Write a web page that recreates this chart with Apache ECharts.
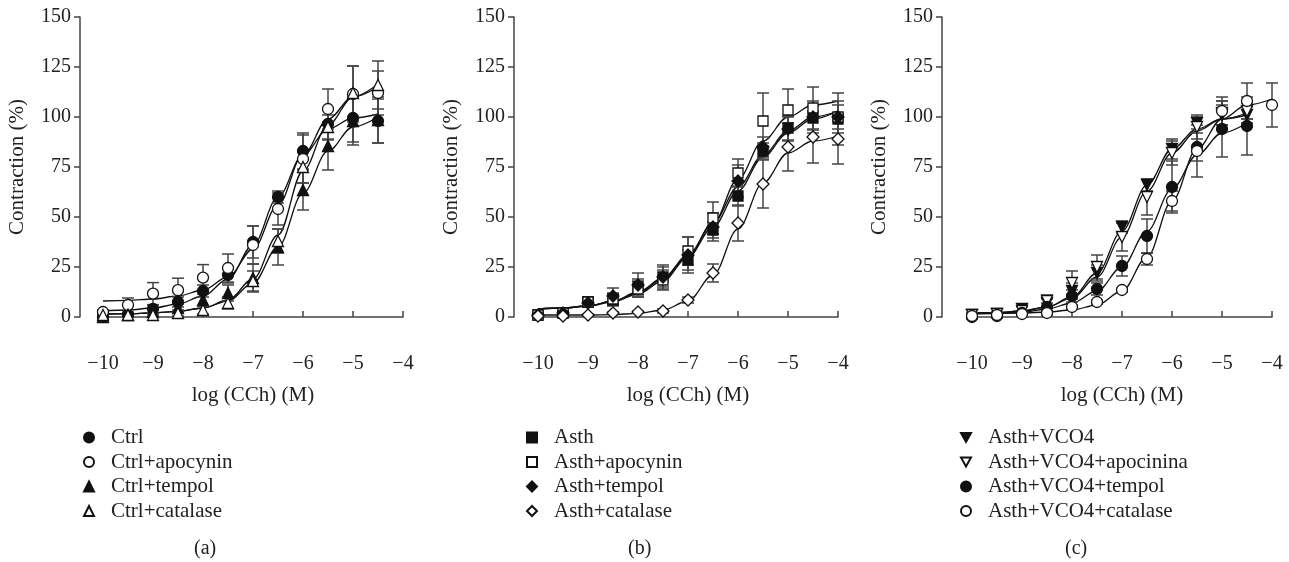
<!DOCTYPE html>
<html>
<head>
<meta charset="utf-8">
<script src="https://cdn.jsdelivr.net/npm/echarts@6/dist/echarts.min.js"></script>
<style>
html,body{margin:0;padding:0;background:#fff;}
#main{width:1289px;height:562px;}
</style>
</head>
<body>
<div id="main"></div>
<script>
// log concentrations
var xA = [-10,-9.5,-9,-8.5,-8,-7.5,-7,-6.5,-6,-5.5,-5,-4.5];
var xB = [-10,-9.5,-9,-8.5,-8,-7.5,-7,-6.5,-6,-5.5,-5,-4.5,-4];

// panel (a)
var ctrl      = [0,1,4,7.5,13,21,37.5,60,83,96.5,99.5,98];
var ctrlErr   = [1,1,2,2.5,3,4,8,3,9,8,12,11];
var ctrlFit   = [3,3.5,4.5,6.5,10.5,19,36,60,81,94,99.5,101.5];
var ctrlApo   = [2.5,6,11.7,13.4,19.7,24.5,36,54,79,104,111.5,112];
var ctrlApoErr= [1,3.5,5.5,6,6.5,7,9.5,8,12,10,14,11];
var ctrlApoFit= [8,8.3,9,10.5,13.5,20,34,56,81,99,110,115];
var ctrlTem   = [0,1,2.5,4.5,8.5,12,19.5,35,63.5,85.5,98,98.5];
var ctrlTemErr= [1,1,1.5,2,3,4,7,9,10,12,12,11.5];
var ctrlTemFit= [1.5,1.6,2,2.8,4.5,8,17,35,62,83,95,100];
var ctrlCat   = [1,1,1,2,3.5,7,18,38,75,95,112,116];
var ctrlCatErr= [1,1,1,1.5,2,3,5,6,8,6,13.5,12];
var ctrlCatFit= [1.5,1.6,2,2.8,4.5,8.5,19,41,73,96,110,116.5];

// panel (b)
var asth      = [1,2,7.5,8.5,15,20,28.5,43.5,60.5,83,94.5,99.5,99];
var asthErr   = [1,1,2.5,3,4,5,5,4,5,4,6,6,13];
var asthFit   = [4,4.5,5.5,8,12,19,30,45,63,80,92,99,103];
var asthApo   = [1,2,7.5,9,14,18.5,33,49.5,72,98,103.5,104.5,100];
var asthApoErr= [1,1,2,3,4,5,7,8,7,14,10.5,10.5,8];
var asthApoFit= [4,4.5,5.5,7.5,11.5,18,30,47,69,88,100,106,108];
var asthTem   = [1,2,7,10.5,16,20,31,45,68,85,94,100,100];
var asthTemErr= [1,1,2,4,6,6,9,7,8,5,6,8,6];
var asthTemFit= [4,4.5,5.5,8,12.5,19.5,31,47,65,81,93,100,103];
var asthCat   = [0.5,0.5,1,2,2.5,3,8.5,22,47,66.5,85,90,89];
var asthCatErr= [0.5,0.5,0.5,0.5,0.5,1,1.5,4.5,9,12,12,13,12.5];
var asthCatFit= [1,1,1,1.2,1.8,3.5,8,21,44,67,82,88,90.5];

// panel (c)
var vco       = [1,1.5,4,7,13,22,45,66,84,97,101,101];
var vcoErr    = [1,1,1.5,2,4,4,3,3,5,3,5,4];
var vcoFit    = [2,2.2,3,5,10,22,43,66,84,94,99,101];
var vcoApo    = [1,1.5,3,8,17,25,40,60,82,95,102,103];
var vcoApoErr = [1,1,2,3,6,6,7,9,6,6,6,4];
var vcoApoFit = [2,2.2,3,5,9.5,20,40,63,82,93,99,102];
var vcoTem    = [0,0.5,2,5,10.5,14,25.5,40.5,65,85,94,95.5];
var vcoTemErr = [1,1,1,2,3,3,5,8.5,13,7,14,14.5];
var vcoTemFit = [1.5,1.7,2.3,4,7,13,25,43,64,81,92,97];
var vcoCat    = [0.5,1,1.5,2,5,7.5,13.5,29,58,83,103,108,106];
var vcoCatErr = [0.5,0.5,0.5,1,1,1,1,3,5,13,7,9,11];
var vcoCatFit = [2,2,2,2.5,3.5,6,13,30,58,84,99,106,109];

var yTicks = [0,25,50,75,100,125,150];

var INK = '#111';
var AXC = '#444';
var FONT = '"Liberation Serif", "DejaVu Serif", serif';
var downTri = 'path://M0,0 L10,0 L5,9 Z';

function zip(xs, ys){
    var out = [];
    for (var i = 0; i < ys.length; i++) out.push([xs[i], ys[i]]);
    return out;
}
function zip3(xs, ys, es){
    var out = [];
    for (var i = 0; i < ys.length; i++) out.push([xs[i], ys[i], es[i]]);
    return out;
}

function errorBar(params, api){
    var x = api.value(0), y = api.value(1), e = api.value(2);
    var top = api.coord([x, y + e]);
    var bot = api.coord([x, y - e]);
    var w = 6;
    var st = {stroke: AXC, lineWidth: 1.5};
    return {
        type: 'group',
        children: [
            {type: 'line', shape: {x1: top[0], y1: top[1], x2: bot[0], y2: bot[1]}, style: st},
            {type: 'line', shape: {x1: top[0]-w, y1: top[1], x2: top[0]+w, y2: top[1]}, style: st},
            {type: 'line', shape: {x1: bot[0]-w, y1: bot[1], x2: bot[0]+w, y2: bot[1]}, style: st}
        ]
    };
}

var grids = [], xAxes = [], yAxes = [], series = [], legends = [];

function addPanel(idx, left, yOff, legendLeft, groups){
    grids.push({left: left, top: 17, width: 300, height: 300});
    xAxes.push({
        type: 'value', gridIndex: idx, min: -10, max: -4, interval: 1,
        offset: 25,
        name: 'log (CCh) (M)', nameLocation: 'middle', nameGap: 43,
        nameTextStyle: {fontFamily: FONT, fontSize: 21, color: '#222'},
        axisLine: {show: true, lineStyle: {color: AXC, width: 1.5}},
        axisTick: {show: true, inside: true, length: 6, lineStyle: {color: AXC, width: 1.5}},
        axisLabel: {margin: 12, fontFamily: FONT, fontSize: 20, color: '#222',
            formatter: function(v){ return String(v).replace('-', '\u2212'); }},
        splitLine: {show: false}
    });
    yAxes.push({
        type: 'value', gridIndex: idx, min: yTicks[0], max: yTicks[yTicks.length-1], interval: 25,
        offset: yOff,
        name: 'Contraction (%)', nameLocation: 'middle', nameGap: 52,
        nameTextStyle: {fontFamily: FONT, fontSize: 21, color: '#222'},
        axisLine: {show: true, lineStyle: {color: AXC, width: 1.5}},
        axisTick: {show: true, length: 6, lineStyle: {color: AXC, width: 1.5}},
        axisLabel: {margin: 9, fontFamily: FONT, fontSize: 20, color: '#222'},
        splitLine: {show: false}
    });
    var legendData = [];
    groups.forEach(function(g){
        series.push({
            name: g.name + ' fit', type: 'line', xAxisIndex: idx, yAxisIndex: idx,
            data: zip(g.x, g.fit), showSymbol: false, symbol: 'none',
            smooth: 0.35, smoothMonotone: 'x', silent: true, z: 2,
            lineStyle: {color: INK, width: 1.3}
        });
        series.push({
            name: g.name + ' err', type: 'custom', xAxisIndex: idx, yAxisIndex: idx,
            data: zip3(g.x, g.y, g.err), renderItem: errorBar, silent: true, z: 3
        });
        series.push({
            name: g.name, type: 'scatter', xAxisIndex: idx, yAxisIndex: idx,
            data: zip(g.x, g.y), symbol: g.symbol, symbolSize: g.size || 11, z: 4,
            itemStyle: {color: g.filled ? INK : '#fff', borderColor: INK, borderWidth: 1.3, opacity: 1}
        });
        legendData.push({name: g.name, icon: g.symbol});
    });
    legends.push({
        data: legendData, orient: 'vertical', left: legendLeft, top: 422,
        itemWidth: 10, itemHeight: 10, itemGap: 3.5, selectedMode: false,
        textStyle: {fontFamily: FONT, fontSize: 21, lineHeight: 21, color: '#222', padding: [0,0,0,12]}
    });
}

addPanel(0, 103, 23, 78, [
    {name: 'Ctrl', x: xA, y: ctrl, err: ctrlErr, fit: ctrlFit, symbol: 'circle', filled: true},
    {name: 'Ctrl+apocynin', x: xA, y: ctrlApo, err: ctrlApoErr, fit: ctrlApoFit, symbol: 'circle', filled: false},
    {name: 'Ctrl+tempol', x: xA, y: ctrlTem, err: ctrlTemErr, fit: ctrlTemFit, symbol: 'triangle', filled: true},
    {name: 'Ctrl+catalase', x: xA, y: ctrlCat, err: ctrlCatErr, fit: ctrlCatFit, symbol: 'triangle', filled: false}
]);
addPanel(1, 538, 24, 521, [
    {name: 'Asth', x: xB, y: asth, err: asthErr, fit: asthFit, symbol: 'rect', filled: true, size: 10},
    {name: 'Asth+apocynin', x: xB, y: asthApo, err: asthApoErr, fit: asthApoFit, symbol: 'rect', filled: false, size: 10},
    {name: 'Asth+tempol', x: xB, y: asthTem, err: asthTemErr, fit: asthTemFit, symbol: 'diamond', filled: true, size: 12},
    {name: 'Asth+catalase', x: xB, y: asthCat, err: asthCatErr, fit: asthCatFit, symbol: 'diamond', filled: false, size: 12}
]);
addPanel(2, 972, 30, 955, [
    {name: 'Asth+VCO4', x: xA, y: vco, err: vcoErr, fit: vcoFit, symbol: downTri, filled: true},
    {name: 'Asth+VCO4+apocinina', x: xA, y: vcoApo, err: vcoApoErr, fit: vcoApoFit, symbol: downTri, filled: false},
    {name: 'Asth+VCO4+tempol', x: xA, y: vcoTem, err: vcoTemErr, fit: vcoTemFit, symbol: 'circle', filled: true},
    {name: 'Asth+VCO4+catalase', x: xB, y: vcoCat, err: vcoCatErr, fit: vcoCatFit, symbol: 'circle', filled: false}
]);

var myChart = echarts.init(document.getElementById('main'), null, {renderer: 'canvas'});
myChart.setOption({
    animation: false,
    backgroundColor: '#fff',
    grid: grids,
    xAxis: xAxes,
    yAxis: yAxes,
    legend: legends,
    series: series,
    graphic: [
        {type: 'text', left: 194, top: 539, style: {text: '(a)', font: '20px ' + FONT, fill: '#222'}},
        {type: 'text', left: 628, top: 539, style: {text: '(b)', font: '20px ' + FONT, fill: '#222'}},
        {type: 'text', left: 1065, top: 539, style: {text: '(c)', font: '20px ' + FONT, fill: '#222'}}
    ]
});
</script>
</body>
</html>
